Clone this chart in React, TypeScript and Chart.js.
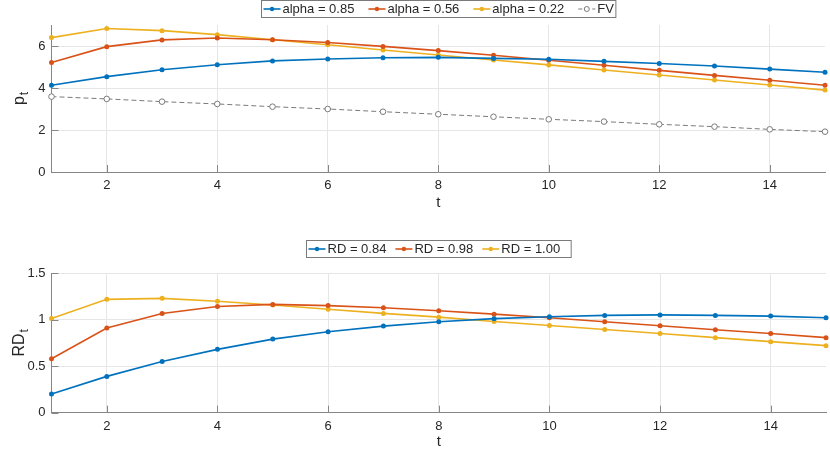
import React, { useEffect, useRef } from "react";
import { Chart, registerables } from "chart.js";

Chart.register(...registerables);

// time steps and read-off values
const tSteps = [1, 2, 3, 4, 5, 6, 7, 8, 9, 10, 11, 12, 13, 14, 15];
const xTickValues = [2, 4, 6, 8, 10, 12, 14];

const alpha085 = [4.13, 4.54, 4.87, 5.11, 5.29, 5.38, 5.44, 5.46, 5.41, 5.37, 5.27, 5.17, 5.05, 4.9, 4.75];
const alpha056 = [5.21, 5.97, 6.29, 6.38, 6.3, 6.17, 5.98, 5.78, 5.56, 5.32, 5.08, 4.84, 4.6, 4.37, 4.13];
const alpha022 = [6.4, 6.83, 6.73, 6.54, 6.3, 6.06, 5.81, 5.57, 5.33, 5.1, 4.86, 4.62, 4.38, 4.14, 3.9];
const fvValues = [3.59, 3.48, 3.35, 3.24, 3.11, 3.0, 2.87, 2.75, 2.63, 2.51, 2.4, 2.27, 2.16, 2.03, 1.92];
const topYTicks = [0, 2, 4, 6];

const rd084 = [0.2, 0.39, 0.55, 0.68, 0.79, 0.87, 0.93, 0.976, 1.01, 1.03, 1.045, 1.05, 1.045, 1.037, 1.02];
const rd098 = [0.58, 0.91, 1.066, 1.14, 1.163, 1.15, 1.127, 1.095, 1.058, 1.02, 0.976, 0.933, 0.89, 0.85, 0.806];
const rd100 = [1.012, 1.217, 1.228, 1.196, 1.156, 1.11, 1.066, 1.026, 0.98, 0.936, 0.893, 0.85, 0.806, 0.763, 0.72];
const bottomYTicks = [0, 0.5, 1, 1.5];

const FONT = "'Liberation Sans', Arial, Helvetica, sans-serif";
const BLUE = "#0072BD";
const RED = "#D95319";
const YELLOW = "#EDB120";
const GREY = "#7a7a7a";
const AXIS_COLOR = "#868686";
const GRID_COLOR = "#e6e6e6";
const TEXT_COLOR = "#262626";

type LegendItem = { label: string; color: string; dashed?: boolean; open?: boolean };

const toPoints = (ys: number[]) => tSteps.map((t, i) => ({ x: t, y: ys[i] }));

const solidSet = (label: string, color: string, ys: number[]) => ({
  label,
  data: toPoints(ys),
  borderColor: color,
  backgroundColor: color,
  borderWidth: 1.6,
  pointRadius: 2.5,
  pointBorderWidth: 0,
  pointBackgroundColor: color,
  clip: false,
});

// MATLAB-ish extras: inward ticks, axis titles with subscript, boxed legend
const decorPlugin = {
  id: "matlabDecor",
  afterDraw(chart: any) {
    const opts = chart.options.plugins.matlabDecor;
    const { ctx, chartArea: a } = chart;
    const xs = chart.scales.x;
    const ys = chart.scales.y;
    ctx.save();

    ctx.strokeStyle = AXIS_COLOR;
    ctx.lineWidth = 1;
    ctx.beginPath();
    xs.ticks.forEach((tk: any) => {
      const px = Math.round(xs.getPixelForValue(tk.value)) + 0.5;
      ctx.moveTo(px, a.bottom);
      ctx.lineTo(px, a.bottom - 7);
    });
    ys.ticks.forEach((tk: any) => {
      const py = Math.round(ys.getPixelForValue(tk.value)) + 0.5;
      ctx.moveTo(a.left, py);
      ctx.lineTo(a.left + 7, py);
    });
    ctx.stroke();

    // x title
    ctx.fillStyle = TEXT_COLOR;
    ctx.font = `15px ${FONT}`;
    ctx.textAlign = "center";
    ctx.textBaseline = "middle";
    ctx.fillText("t", (a.left + a.right) / 2, opts.xTitleY);

    // y title with subscript
    ctx.save();
    ctx.translate(24, (a.top + a.bottom) / 2);
    ctx.rotate(-Math.PI / 2);
    ctx.textAlign = "left";
    ctx.textBaseline = "alphabetic";
    ctx.font = `16px ${FONT}`;
    const mainW = ctx.measureText(opts.yMain).width;
    ctx.font = `12px ${FONT}`;
    const subW = ctx.measureText(opts.ySub).width;
    const start = -(mainW + 1 + subW) / 2;
    ctx.font = `16px ${FONT}`;
    ctx.fillText(opts.yMain, start, 0);
    ctx.font = `12px ${FONT}`;
    ctx.fillText(opts.ySub, start + mainW + 1, 4);
    ctx.restore();

    // legend
    const items: LegendItem[] = opts.legend;
    const lineLen = 17;
    const textGap = 2;
    ctx.font = `13px ${FONT}`;
    const widths = items.map((it) => ctx.measureText(it.label).width);
    let total = 2 + opts.legendPadR + opts.legendGap * (items.length - 1);
    widths.forEach((w) => (total += lineLen + textGap + w));
    const left = Math.round((a.left + a.right) / 2 - total / 2) + 0.5;
    const top = opts.legendTop;
    const h = 17;
    ctx.fillStyle = "#ffffff";
    ctx.fillRect(left, top, total, h);
    ctx.strokeStyle = "#7a7a7a";
    ctx.lineWidth = 1;
    ctx.strokeRect(left, top, total, h);
    const midY = top + h / 2;
    let cx = left + 2;
    items.forEach((it, i) => {
      ctx.strokeStyle = it.color;
      ctx.lineWidth = it.dashed ? 1 : 1.6;
      ctx.setLineDash(it.dashed ? [4, 3] : []);
      ctx.beginPath();
      ctx.moveTo(cx, midY);
      ctx.lineTo(cx + lineLen, midY);
      ctx.stroke();
      ctx.setLineDash([]);
      ctx.beginPath();
      ctx.arc(cx + lineLen / 2, midY, it.open ? 2.5 : 2.2, 0, Math.PI * 2);
      if (it.open) {
        ctx.fillStyle = "#ffffff";
        ctx.fill();
        ctx.stroke();
      } else {
        ctx.fillStyle = it.color;
        ctx.fill();
      }
      ctx.fillStyle = TEXT_COLOR;
      ctx.textAlign = "left";
      ctx.textBaseline = "middle";
      ctx.fillText(it.label, cx + lineLen + textGap, midY + 0.5);
      cx += lineLen + textGap + widths[i] + opts.legendGap;
    });
    ctx.restore();
  },
};

interface PanelProps {
  height: number;
  areaTop: number;
  areaBottom: number;
  yMax: number;
  yTicks: number[];
  yMain: string;
  ySub: string;
  xTitleY: number;
  legendTop: number;
  legendGap: number;
  legendPadR: number;
  legend: LegendItem[];
  datasets: any[];
}

const Panel = (props: PanelProps) => {
  const canvasRef = useRef<HTMLCanvasElement>(null);

  useEffect(() => {
    if (!canvasRef.current) return;
    const tickFont = { family: FONT, size: 13 };
    const chart = new Chart(canvasRef.current, {
      type: "line",
      data: { datasets: props.datasets },
      plugins: [decorPlugin],
      options: {
        animation: false,
        responsive: true,
        maintainAspectRatio: false,
        layout: { padding: { top: props.areaTop, right: 3, bottom: 0, left: 0 } },
        plugins: {
          legend: { display: false },
          tooltip: { enabled: false },
          matlabDecor: {
            yMain: props.yMain,
            ySub: props.ySub,
            xTitleY: props.xTitleY,
            legendTop: props.legendTop,
            legendGap: props.legendGap,
            legendPadR: props.legendPadR,
            legend: props.legend,
          },
        } as any,
        scales: {
          x: {
            type: "linear",
            min: 1,
            max: 15,
            afterFit: (s: any) => {
              s.height = props.height - props.areaBottom;
            },
            afterBuildTicks: (s: any) => {
              s.ticks = xTickValues.map((v) => ({ value: v }));
            },
            grid: { color: GRID_COLOR, drawTicks: false },
            border: { color: AXIS_COLOR, width: 1 },
            ticks: { padding: 6, color: TEXT_COLOR, font: tickFont, maxRotation: 0 },
          },
          y: {
            type: "linear",
            min: 0,
            max: props.yMax,
            afterFit: (s: any) => {
              s.width = 51.5;
            },
            afterBuildTicks: (s: any) => {
              s.ticks = props.yTicks.map((v) => ({ value: v }));
            },
            grid: { color: GRID_COLOR, drawTicks: false },
            border: { color: AXIS_COLOR, width: 1 },
            ticks: {
              padding: 6,
              color: TEXT_COLOR,
              font: tickFont,
              callback: (v: any) => String(v),
            },
          },
        },
      },
    });
    return () => {
      chart.destroy();
    };
  }, [props]);

  return <canvas ref={canvasRef} />;
};

const topDatasets = [
  solidSet("alpha = 0.85", BLUE, alpha085),
  solidSet("alpha = 0.56", RED, alpha056),
  solidSet("alpha = 0.22", YELLOW, alpha022),
  {
    label: "FV",
    data: toPoints(fvValues),
    borderColor: GREY,
    borderWidth: 1,
    borderDash: [5, 3],
    pointRadius: 2.8,
    pointBorderWidth: 1,
    pointBorderColor: GREY,
    pointBackgroundColor: "#ffffff",
    clip: false,
  },
];

const bottomDatasets = [
  solidSet("RD = 0.84", BLUE, rd084),
  solidSet("RD = 0.98", RED, rd098),
  solidSet("RD = 1.00", YELLOW, rd100),
];

const topLegend: LegendItem[] = [
  { label: "alpha = 0.85", color: BLUE },
  { label: "alpha = 0.56", color: RED },
  { label: "alpha = 0.22", color: YELLOW },
  { label: "FV", color: GREY, dashed: true, open: true },
];

const bottomLegend: LegendItem[] = [
  { label: "RD = 0.84", color: BLUE },
  { label: "RD = 0.98", color: RED },
  { label: "RD = 1.00", color: YELLOW },
];

const topProps: PanelProps = {
  height: 215,
  areaTop: 25,
  areaBottom: 172,
  yMax: 7,
  yTicks: topYTicks,
  yMain: "p",
  ySub: "t",
  xTitleY: 203,
  legendTop: 0.5,
  legendGap: 14,
  legendPadR: 2,
  legend: topLegend,
  datasets: topDatasets,
};

const bottomProps: PanelProps = {
  height: 225,
  areaTop: 48,
  areaBottom: 187.7,
  yMax: 1.5,
  yTicks: bottomYTicks,
  yMain: "RD",
  ySub: "t",
  xTitleY: 217,
  legendTop: 15.5,
  legendGap: 9,
  legendPadR: 11,
  legend: bottomLegend,
  datasets: bottomDatasets,
};

export default function App() {
  return (
    <div style={{ position: "fixed", left: 0, top: 0, width: 830, height: 450, background: "#ffffff" }}>
      <div style={{ position: "absolute", left: 0, top: 0, width: 830, height: 215 }}>
        <Panel {...topProps} />
      </div>
      <div style={{ position: "absolute", left: 0, top: 225, width: 830, height: 225 }}>
        <Panel {...bottomProps} />
      </div>
    </div>
  );
}
